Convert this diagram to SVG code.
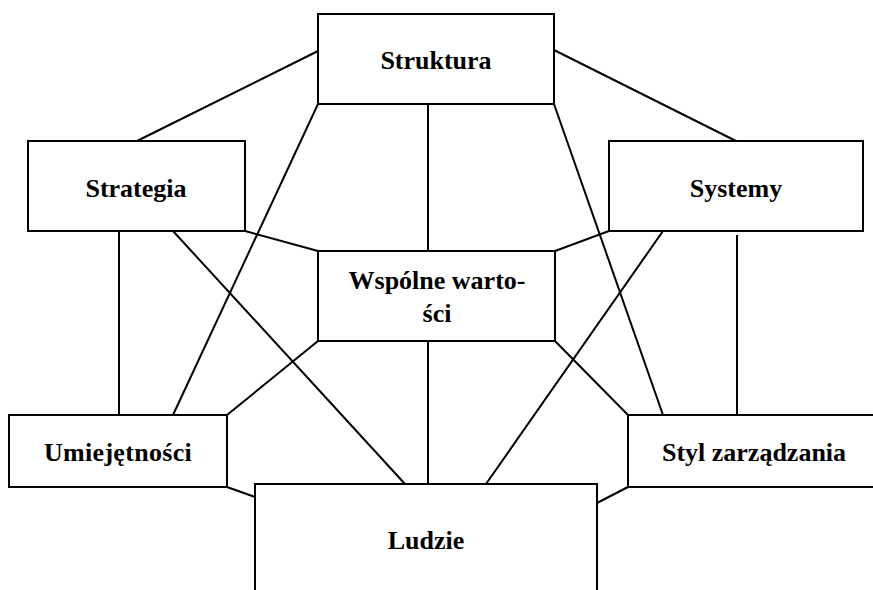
<svg xmlns="http://www.w3.org/2000/svg" width="873" height="590" viewBox="0 0 873 590">
<style>
.box{fill:#fff;stroke:#000;stroke-width:2}
.lbl{font-family:"Liberation Serif","Times New Roman",serif;font-weight:bold;font-size:26px;fill:#000;text-anchor:middle}
.con line{stroke:#000;stroke-width:2}
</style>
<rect width="873" height="590" fill="#fff"/>
<g id="connectors" class="con">
<line x1="318" y1="51" x2="137" y2="141"/>
<line x1="554" y1="50" x2="736" y2="141"/>
<line x1="318" y1="104" x2="173" y2="415"/>
<line x1="428" y1="104" x2="428" y2="251"/>
<line x1="554" y1="104" x2="663" y2="415"/>
<line x1="119" y1="231" x2="119" y2="415"/>
<line x1="173" y1="231" x2="405" y2="484"/>
<line x1="245" y1="231" x2="318" y2="251"/>
<line x1="609" y1="231" x2="555" y2="251"/>
<line x1="663" y1="231" x2="486" y2="484"/>
<line x1="737" y1="235" x2="737" y2="415"/>
<line x1="318" y1="341" x2="227" y2="415"/>
<line x1="428" y1="341" x2="428" y2="484"/>
<line x1="555" y1="341" x2="628" y2="415"/>
<line x1="227" y1="487" x2="255" y2="497"/>
<line x1="628" y1="487" x2="597" y2="503"/>
</g>
<g id="struktura">
<rect class="box" x="318" y="14" width="236" height="90"/>
<text class="lbl" x="436" y="69">Struktura</text>
</g>
<g id="strategia">
<rect class="box" x="28" y="141" width="217" height="90"/>
<text class="lbl" x="136" y="197">Strategia</text>
</g>
<g id="systemy">
<rect class="box" x="609" y="141" width="254" height="90"/>
<text class="lbl" x="736" y="197">Systemy</text>
</g>
<g id="wspolne">
<rect class="box" x="318" y="251" width="237" height="90"/>
<text class="lbl" x="437" y="289">Wspólne warto-</text>
<text class="lbl" x="437" y="322">ści</text>
</g>
<g id="umiejetnosci">
<rect class="box" x="9" y="415" width="218" height="72"/>
<text class="lbl" x="118" y="461" letter-spacing="0.3">Umiejętności</text>
</g>
<g id="styl">
<rect class="box" x="628" y="415" width="260" height="72"/>
<text class="lbl" x="754" y="461">Styl zarządzania</text>
</g>
<g id="ludzie">
<rect class="box" x="255" y="484" width="342" height="120"/>
<text class="lbl" x="426" y="549">Ludzie</text>
</g>
</svg>
